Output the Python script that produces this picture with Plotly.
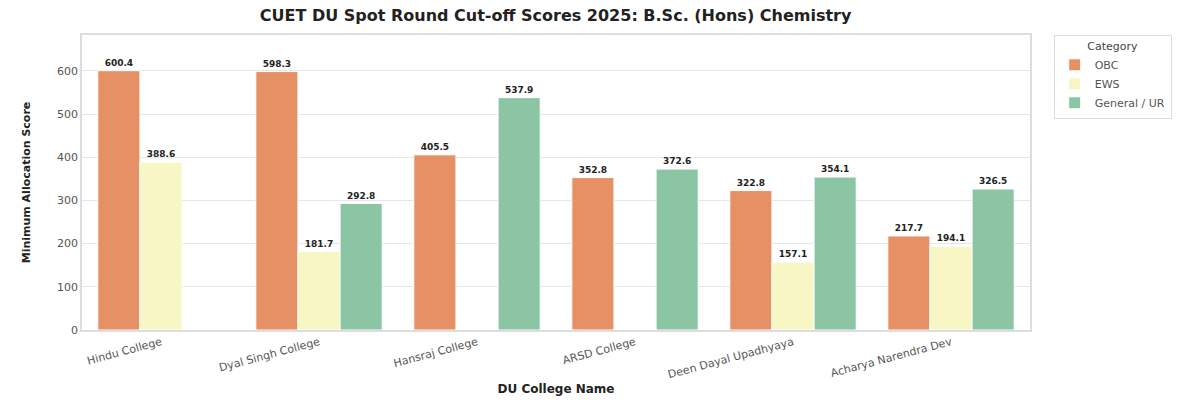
import plotly.graph_objects as go

colleges = ["Hindu College", "Dyal Singh College", "Hansraj College", "ARSD College",
            "Deen Dayal Upadhyaya", "Acharya Narendra Dev"]
obc = [600.4, 598.3, 405.5, 352.8, 322.8, 217.7]
ews = [388.6, 181.7, None, None, 157.1, 194.1]
general = [None, 292.8, 537.9, 372.6, 354.1, 326.5]
series_names = ["OBC", "EWS", "General / UR"]
colors = ["#E69065", "#F7F6C4", "#8CC5A3"]

fig = go.Figure()
for name, vals, col in zip(series_names, [obc, ews, general], colors):
    fig.add_trace(go.Bar(
        x=colleges, y=vals, name=name,
        marker=dict(color=col, line=dict(color="white", width=1)),
        text=[f"{v:.1f}" if v is not None else "" for v in vals],
        textposition="outside",
        textfont=dict(family="DejaVu Sans", size=9, color="#222222", weight="bold"),
        cliponaxis=False,
    ))

fig.update_layout(
    width=1200, height=400,
    margin=dict(l=82, r=170, t=35, b=70, autoexpand=False),
    paper_bgcolor="white", plot_bgcolor="white",
    barmode="group", bargap=0.2, bargroupgap=0,
    font=dict(family="DejaVu Sans", color="#444444"),
    title=dict(text="<b>CUET DU Spot Round Cut-off Scores 2025: B.Sc. (Hons) Chemistry</b>",
               x=0.463, xanchor="center", y=0.962, yanchor="middle",
               font=dict(size=16, color="#222222")),
    legend=dict(title=dict(text="Category", side="top center", font=dict(size=11, color="#444444")),
                x=1.025, xanchor="left", y=1.0, yanchor="top",
                bordercolor="#dddddd", borderwidth=1,
                font=dict(size=11, color="#555555"), tracegroupgap=0, itemwidth=30),
    uniformtext=dict(minsize=8, mode="show"),
)
fig.update_xaxes(
    title=dict(text="<b>DU College Name</b>", font=dict(size=12, color="#222222"), standoff=4),
    tickangle=-15, tickfont=dict(size=11, color="#555555"), automargin=False,
    showline=True, mirror=True, linecolor="#dddddd", linewidth=1.5,
    showgrid=False, ticks="", range=[-0.5, 5.5],
)
fig.update_yaxes(
    title=dict(text="<b>Minimum Allocation Score</b>", font=dict(size=11, color="#222222"), standoff=24),
    range=[0, 683], tickvals=[0, 100, 200, 300, 400, 500, 600], automargin=False,
    tickfont=dict(size=11, color="#555555"),
    showline=True, mirror=True, linecolor="#dddddd", linewidth=1.5,
    showgrid=True, gridcolor="#e6e6e6", gridwidth=1.2, zeroline=False, ticks="",
)

fig.write_html("out.html")
